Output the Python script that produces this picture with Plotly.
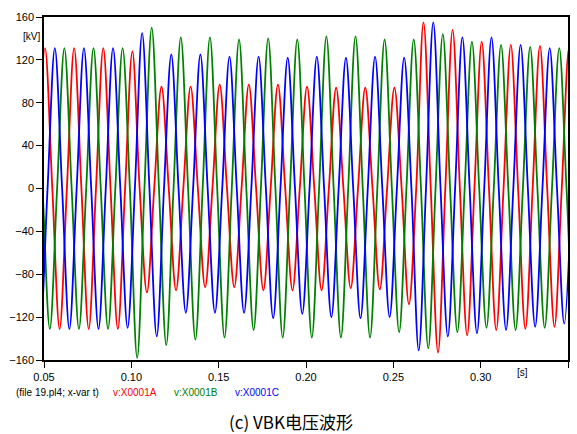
import numpy as np
import plotly.graph_objects as go

# Quarter-cycle samples (60 Hz): zero crossings and peaks of each phase voltage, kV
QUARTER = 1.0 / 240.0

t0_a = 0.04643
v_a = [
    0, 131, 0, -131,   0, 131, 0, -131,   0, 131, 0, -131,
    0, 128, 0, -97,    0, 95, 0, -95,     0, 95, 0, -92,
    0, 97, 0, -92,     0, 97, 0, -95,     0, 97, 0, -95,
    0, 95, 0, -95,     0, 94, 0, -93,     0, 94, 0, -94,
    0, 94, 0, -108,    0, 155, 0, -153,   0, 148, 0, -137,
    0, 137, 0, -132,   0, 134, 0, -131,   0, 133, 0, -129,
    0, 131, 0,
]

t0_b = 0.04500
v_b = [
    131, 0, -131, 0,   131, 0, -131, 0,   131, 0, -131, 0,
    131, 0, -158, 0,   150, 0, -146, 0,   141, 0, -141, 0,
    141, 0, -139, 0,   139, 0, -132, 0,   140, 0, -139, 0,
    139, 0, -139, 0,   142, 0, -139, 0,   142, 0, -139, 0,
    139, 0, -134, 0,   139, 0, -149, 0,   144, 0, -134, 0,
    137, 0, -130, 0,   134, 0, -132, 0,   132, 0, -130, 0,
    131, 0, -130, 0,
]

t0_c = 0.04370
v_c = [
    0, -131,
    0, 131, 0, -131,   0, 131, 0, -131,   0, 131, 0, -130,
    0, 145, 0, -138,   0, 125, 0, -116,   0, 125, 0, -116,
    0, 123, 0, -116,   0, 123, 0, -121,   0, 122, 0, -117,
    0, 123, 0, -120,   0, 122, 0, -121,   0, 123, 0, -120,
    0, 122, 0, -151,   0, 155, 0, -138,   0, 141, 0, -135,
    0, 141, 0, -132,   0, 134, 0, -129,   0, 131, 0, -126,
    0,
]

series = [
    ("v:X0001A", t0_a, v_a, "#ff0000"),
    ("v:X0001B", t0_b, v_b, "#008000"),
    ("v:X0001C", t0_c, v_c, "#0000ff"),
]

x_ticks = [0.05, 0.10, 0.15, 0.20, 0.25, 0.30, 0.35]
y_ticks = [-160, -120, -80, -40, 0, 40, 80, 120, 160]

fig = go.Figure()
for name, t0, vals, color in series:
    t = t0 + QUARTER * np.arange(len(vals))
    fig.add_trace(go.Scatter(
        x=t, y=vals, mode="lines", name=name,
        line=dict(color=color, width=1.8, shape="spline", smoothing=1.0),
        showlegend=False,
    ))

font = "Liberation Sans, Arial, sans-serif"
axis_common = dict(
    showgrid=False, zeroline=False, showline=True, mirror=True,
    linecolor="black", linewidth=1.6, ticks="outside", ticklen=6,
    tickwidth=1.2, tickcolor="black",
    tickfont=dict(family=font, size=11, color="black"),
)

fig.update_layout(
    width=577, height=434,
    margin=dict(l=44, r=7, t=17, b=74),
    paper_bgcolor="white", plot_bgcolor="white",
    xaxis=dict(range=[0.05, 0.35], tickvals=x_ticks, tickformat=".2f", **axis_common),
    yaxis=dict(range=[-160, 160], tickvals=y_ticks, **axis_common),
)

W, H = 526.0, 343.0


def px(xp):
    return (xp - 44) / W


def py(yp):
    return (360 - yp) / H


notes = [
    ("[kV]", 31, 37, "black", 10),
    ("[s]", 524, 372, "black", 10),
    ("(file 19.pl4; x-var t)", 58, 393, "black", 10),
    ("v:X0001A", 135, 393, "#ff0000", 10),
    ("v:X0001B", 197, 393, "#008000", 10),
    ("v:X0001C", 258, 393, "#0000ff", 10),
]
for text, xc, yc, color, size in notes:
    fig.add_annotation(
        x=px(xc), y=py(yc), xref="paper", yref="paper", text=text,
        showarrow=False, xanchor="center", yanchor="middle",
        font=dict(family=font, size=size, color=color),
    )

fig.add_annotation(
    x=px(292), y=py(421), xref="paper", yref="paper",
    text="(c) VBK电压波形", showarrow=False, xanchor="center", yanchor="middle",
    font=dict(family="Noto Sans CJK SC, Liberation Sans, sans-serif", size=17, color="black"),
)

fig.write_html("out.html")
